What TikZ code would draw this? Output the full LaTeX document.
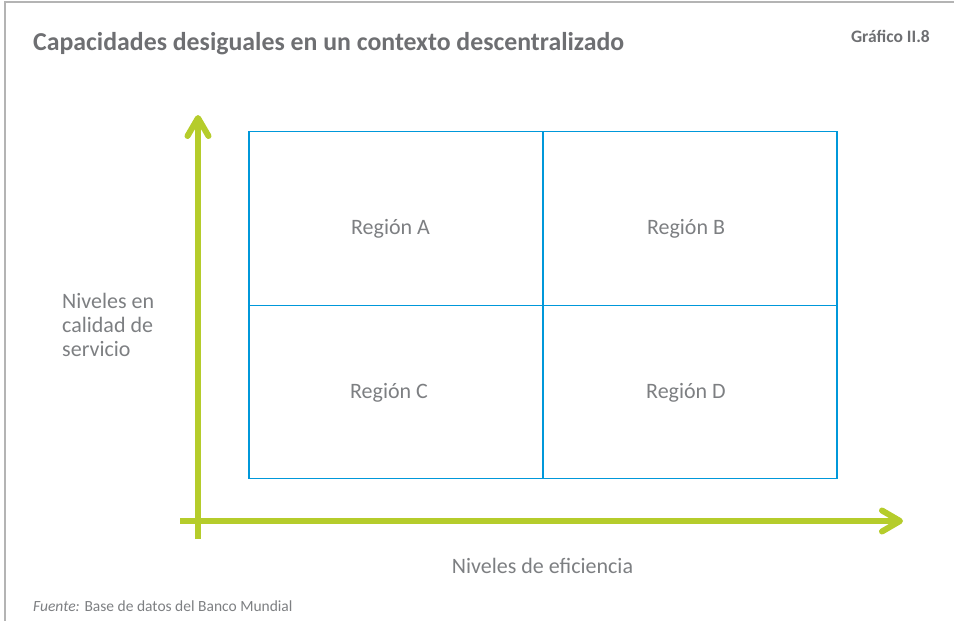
\documentclass[tikz,border=0pt]{standalone}
\usepackage{fontspec}
\setmainfont{Carlito}
\usetikzlibrary{arrows.meta,positioning}
\definecolor{axisgreen}{RGB}{181,204,43}
\definecolor{gridblue}{RGB}{0,152,218}
\definecolor{titlegray}{RGB}{110,111,114}
\definecolor{textgray}{RGB}{125,127,130}
\definecolor{framegray}{RGB}{180,180,180}

\begin{document}
\begin{tikzpicture}[x=1pt,y=-1pt,
  cell/.style={draw=gridblue,line width=1.3pt,minimum width=294pt,minimum height=173.5pt,inner sep=0pt},
  region/.style={text=textgray,font=\fontsize{22}{24}\selectfont,inner sep=0pt,anchor=base},
  axis/.style={draw=axisgreen,line width=6pt,-{Straight Barb[length=18pt,width=21pt,round]}}]
  \useasboundingbox (0,0) rectangle (954,621);
  \draw [framegray,line width=1.5pt] (5,625) -- (5,2) -- (960,2);
  % title and number
  \node (title) [anchor=base west,inner sep=0pt,text=titlegray,font=\bfseries\fontsize{25.8}{28}\selectfont] at (33,50) {Capacidades desiguales en un contexto descentralizado};
  \node (num) [anchor=base east,inner sep=0pt,text=titlegray,font=\bfseries\fontsize{17.5}{20}\selectfont] at (930,42) {Gráfico II.8};
  % four regions
  \node (cA) [cell] at (396,218.5) {};
  \node (cB) [cell] at (690,218.5) {};
  \node (cC) [cell] at (396,392) {};
  \node (cD) [cell] at (690,392) {};
  \node (rA) [region] at (390.5,234) {Región A};
  \node (rB) [region] at (686,234) {Región B};
  \node (rC) [region] at (389,398) {Región C};
  \node (rD) [region] at (686,398) {Región D};
  % axes
  \coordinate (o1) at (198,539);
  \coordinate (yt) at (198,115);
  \coordinate (o2) at (180,521);
  \coordinate (xt) at (903,521);
  \draw [axis] (o1) -- (yt);
  \draw [axis] (o2) -- (xt);
  \node (ylab) [region,anchor=base west,align=left] at (62,356) {Niveles en\\calidad de\\servicio};
  \node (xlab) [region] at (542.5,573) {Niveles de eficiencia};
  \node (src) [anchor=base west,inner sep=0pt,text=textgray,font=\fontsize{15.5}{18}\selectfont] at (33,611) {{\itshape Fuente:} Base de datos del Banco Mundial};
\end{tikzpicture}
\end{document}
